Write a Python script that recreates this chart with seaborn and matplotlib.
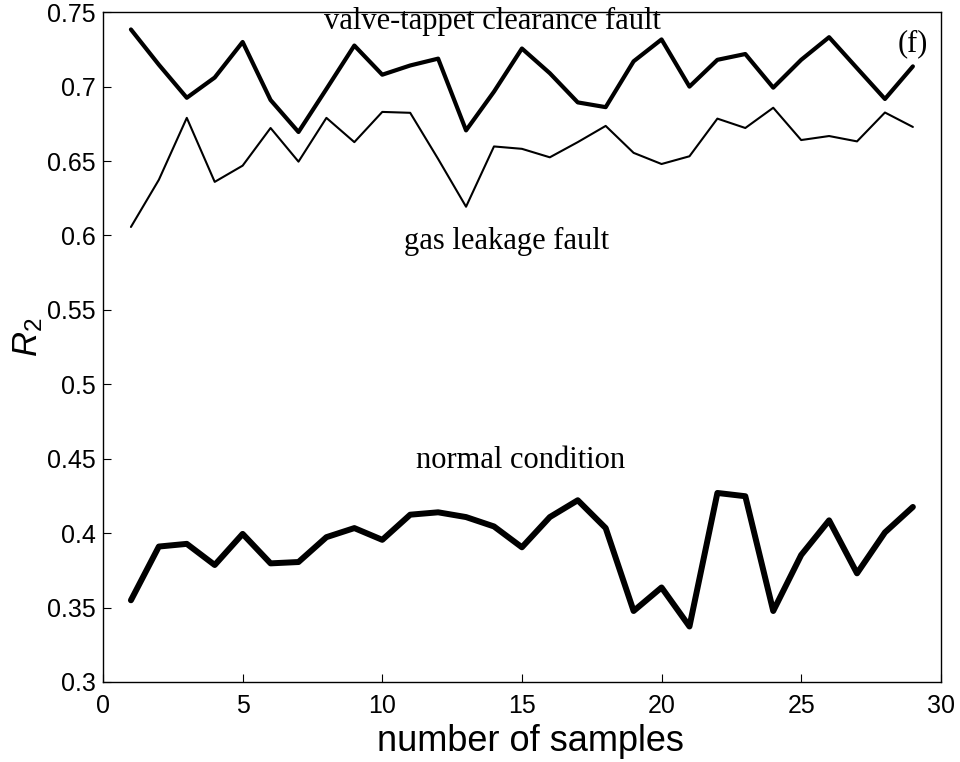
import matplotlib
matplotlib.use("Agg")
import matplotlib.pyplot as plt
import seaborn as sns
import pandas as pd

samples = list(range(1, 30))
valve_tappet = [0.7384, 0.7147, 0.6925, 0.7061, 0.7300, 0.6910, 0.6695, 0.6984, 0.7276, 0.7080,
                0.7142, 0.7188, 0.6706, 0.6966, 0.7256, 0.7090, 0.6894, 0.6862, 0.7170, 0.7317,
                0.7000, 0.7180, 0.7219, 0.6993, 0.7180, 0.7332, 0.7124, 0.6917, 0.7136]
gas_leakage = [0.6057, 0.6374, 0.6790, 0.6360, 0.6469, 0.6722, 0.6496, 0.6790, 0.6627, 0.6830,
               0.6824, 0.6514, 0.6193, 0.6598, 0.6582, 0.6525, 0.6627, 0.6736, 0.6555, 0.6480,
               0.6532, 0.6785, 0.6722, 0.6858, 0.6641, 0.6668, 0.6632, 0.6826, 0.6729]
normal = [0.3549, 0.3910, 0.3928, 0.3786, 0.3995, 0.3797, 0.3806, 0.3973, 0.4034, 0.3955,
          0.4124, 0.4140, 0.4108, 0.4045, 0.3905, 0.4108, 0.4221, 0.4034, 0.3477, 0.3635,
          0.3373, 0.4270, 0.4248, 0.3477, 0.3853, 0.4086, 0.3730, 0.4005, 0.4176]
x_ticks = [0, 5, 10, 15, 20, 25, 30]
y_ticks = [0.3, 0.35, 0.4, 0.45, 0.5, 0.55, 0.6, 0.65, 0.7, 0.75]
y_tick_labels = ["0.3", "0.35", "0.4", "0.45", "0.5", "0.55", "0.6", "0.65", "0.7", "0.75"]

sns.set_style("white")
plt.rcParams['font.family'] = ['Liberation Sans', 'DejaVu Sans']
plt.rcParams['mathtext.fontset'] = 'custom'
plt.rcParams['mathtext.it'] = 'Liberation Sans:italic'
plt.rcParams['mathtext.rm'] = 'Liberation Sans'
plt.rcParams['text.color'] = 'black'
plt.rcParams['axes.labelcolor'] = 'black'
plt.rcParams['xtick.color'] = 'black'
plt.rcParams['ytick.color'] = 'black'

df = pd.DataFrame({"x": samples, "valve": valve_tappet, "gas": gas_leakage, "normal": normal})

fig = plt.figure(figsize=(9.6, 7.62), dpi=100)
ax = fig.add_axes([0.1073, 0.105, 0.8727, 0.879])

sns.lineplot(data=df, x="x", y="valve", ax=ax, color="black", linewidth=3.0)
sns.lineplot(data=df, x="x", y="gas", ax=ax, color="black", linewidth=1.5)
sns.lineplot(data=df, x="x", y="normal", ax=ax, color="black", linewidth=4.3)

ax.set_xlim(0, 30)
ax.set_ylim(0.3, 0.75)
ax.set_xticks(x_ticks)
ax.set_xticklabels([str(t) for t in x_ticks])
ax.set_yticks(y_ticks)
ax.set_yticklabels(y_tick_labels)
ax.tick_params(axis='both', direction='in', length=6, width=0.8,
               bottom=True, left=True, top=False, right=False, colors='black')
ax.tick_params(axis='y', labelsize=18, pad=5)
ax.tick_params(axis='x', labelsize=18, pad=9)
for sp in ax.spines.values():
    sp.set_color('black')
    sp.set_linewidth(1.0)

ax.set_xlabel("number of samples", fontsize=26, labelpad=4)
ax.xaxis.label.set_x(0.51)
ax.set_ylabel(r"$R_2$", fontsize=25)
ax.yaxis.set_label_coords(-0.069, 0.515)

serif = ['Liberation Serif', 'DejaVu Serif']
ax.text(13.95, 0.744, "valve-tappet clearance fault", ha='center', va='center', fontsize=22, family=serif, color='black')
ax.text(29.0, 0.729, "(f)", ha='center', va='center', fontsize=22, family=serif, color='black')
ax.text(14.45, 0.596, "gas leakage fault", ha='center', va='center', fontsize=22, family=serif, color='black')
ax.text(14.95, 0.449, "normal condition", ha='center', va='center', fontsize=22, family=serif, color='black')

fig.savefig("out.png", dpi=100)
